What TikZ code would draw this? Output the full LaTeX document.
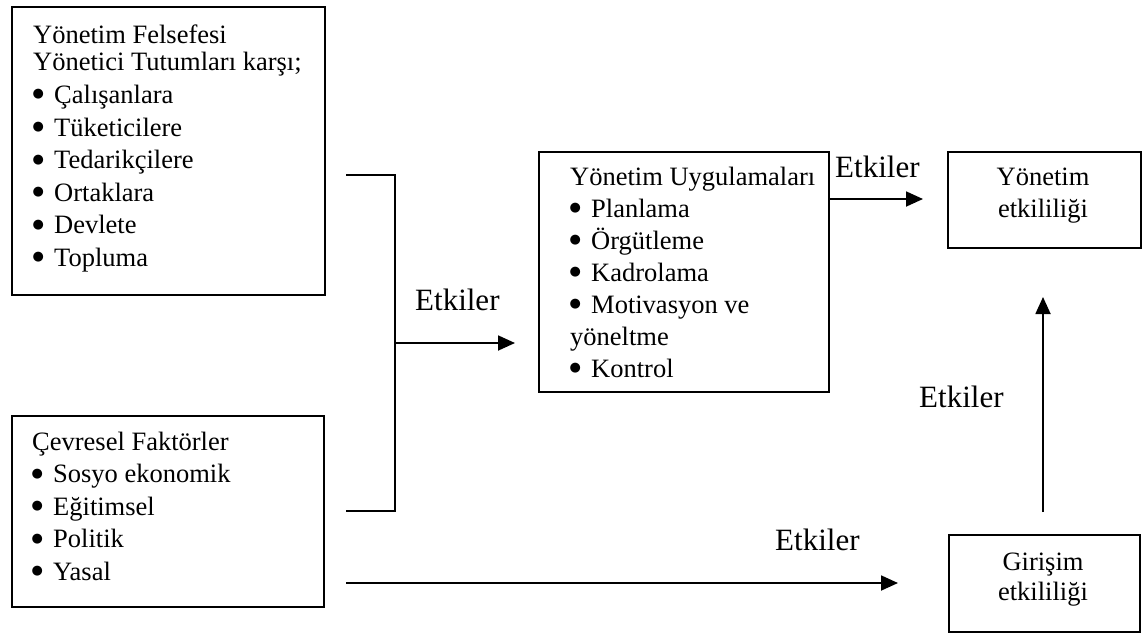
\documentclass[tikz,border=0pt]{standalone}
\usepackage{fontspec}
\setmainfont{Liberation Serif}
\newfontfamily\dotfont{DejaVu Sans}
\usetikzlibrary{arrows.meta}

% one plain line and one bulleted line of a list
\newcommand\rowtxt[1]{\hbox{#1}}
\newcommand\rowbul[1]{\hbox{\makebox[10pt]{\raisebox{5.5pt}{\dotfont\fontsize{13}{13}\selectfont ●}}\hspace{11pt}#1}}

\begin{document}
\begin{tikzpicture}[x=1pt,y=-1pt,
  box/.style={draw=black, line width=1.8pt, inner sep=0pt, anchor=north west},
  txt/.style={inner sep=0pt, font=\fontsize{26.5}{32.6}\selectfont},
  lbl/.style={inner sep=0pt, anchor=base west, font=\fontsize{31}{36}\selectfont},
  wire/.style={line width=1.8pt},
  arr/.style={line width=1.8pt, -{Triangle[length=17pt,width=15pt]}}]

\useasboundingbox (0,0) rectangle (1146,633);

% boxes
\node[box, minimum width=313pt, minimum height=288pt] (b1) at (11,6) {};
\node[box, minimum width=312pt, minimum height=191pt] (b2) at (11,415) {};
\node[box, minimum width=290pt, minimum height=240pt] (b3) at (538,151) {};
\node[box, minimum width=193pt, minimum height=96pt] (b4) at (947,151) {};
\node[box, minimum width=191pt, minimum height=97pt] (b5) at (948,534) {};

% box texts
\node[txt, anchor=base west] (t1) at (33,43) {\vtop{\lineskiplimit=-100pt
  \rowtxt{Yönetim Felsefesi}\vskip-4.8pt
  \rowtxt{Yönetici Tutumları karşı;}
  \rowbul{Çalışanlara}
  \rowbul{Tüketicilere}
  \rowbul{Tedarikçilere}
  \rowbul{Ortaklara}
  \rowbul{Devlete}
  \rowbul{Topluma}}};

\node[txt, anchor=base west] (t2) at (32,450) {\vtop{\lineskiplimit=-100pt
  \rowtxt{Çevresel Faktörler}
  \rowbul{Sosyo ekonomik}
  \rowbul{Eğitimsel}
  \rowbul{Politik}
  \rowbul{Yasal}}};

\node[txt, anchor=base west] (t3) at (570,185) {\vtop{\lineskiplimit=-100pt\baselineskip=32pt
  \rowtxt{Yönetim Uygulamaları}
  \rowbul{Planlama}
  \rowbul{Örgütleme}
  \rowbul{Kadrolama}
  \rowbul{Motivasyon ve}
  \rowtxt{yöneltme}
  \rowbul{Kontrol}}};

\node[txt, anchor=base] (t4) at (1043,185)
  {\begin{tabular}[t]{@{}c@{}}Yönetim\\[-0.6pt]etkililiği\end{tabular}};
\node[txt, anchor=base] (t5) at (1043,570)
  {\begin{tabular}[t]{@{}c@{}}Girişim\\[-2.6pt]etkililiği\end{tabular}};

% connector end points
\coordinate (s1) at (346,175);
\coordinate (jt) at (395,175);
\coordinate (jb) at (395,511);
\coordinate (s2) at (346,511);
\coordinate (jm) at (395,343);
\coordinate (e1) at (515,343);
\coordinate (u1) at (828,199);
\coordinate (u2) at (923,199);
\coordinate (v1) at (1043,512);
\coordinate (v2) at (1043,297);
\coordinate (w1) at (346,583);
\coordinate (w2) at (898,583);

% connectors
\draw[wire] (s1) -- (jt) -- (jb) -- (s2);
\draw[arr] (jm) -- (e1);
\draw[arr] (u1) -- (u2);
\draw[arr] (v1) -- (v2);
\draw[arr] (w1) -- (w2);

% connector labels
\node[lbl] (k1) at (415,310) {Etkiler};
\node[lbl] (k2) at (835,177) {Etkiler};
\node[lbl] (k3) at (919,407) {Etkiler};
\node[lbl] (k4) at (775,550) {Etkiler};
\end{tikzpicture}
\end{document}
